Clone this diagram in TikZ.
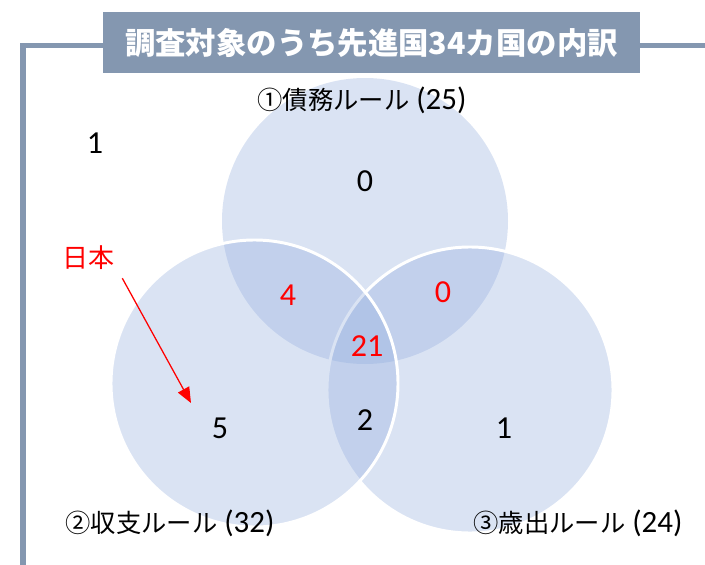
\documentclass[tikz,border=0pt]{standalone}
\usepackage{fontspec}
\usepackage{tikz}
\usetikzlibrary{positioning,arrows.meta}
\setmainfont{Carlito}
\newfontfamily\jpfont{Noto Sans CJK JP}
\definecolor{slatebar}{RGB}{132,151,176}
\definecolor{setblue}{RGB}{143,170,220}
\definecolor{hitred}{RGB}{255,0,0}
\newcommand{\setname}[2]{{\jpfont\fontsize{18}{22}\selectfont #1} (#2)}

\begin{document}
\begin{tikzpicture}[x=0.025cm,y=-0.025cm,
    setfill/.style={fill=setblue,fill opacity=0.33},
    setedge/.style={setfill,draw=white,draw opacity=1,line width=2.1pt},
    frameline/.style={slatebar,line width=3.6pt},
    num/.style={font=\fontsize{22.8}{26}\selectfont,inner sep=0pt},
    rednum/.style={num,text=hitred},
    setlabel/.style={font=\fontsize{22}{24}\selectfont,inner sep=0pt}]
    \useasboundingbox (0,0) rectangle (705,565);

    % the three sets, ordered so the edges overlap as in the chart
    \fill[setfill] (365,221) circle (143);
    \filldraw[setedge] (470,390) circle (143);
    \filldraw[setedge] (254.5,383.5) circle (143.5);

    % title bar and frame
    \node[fill=slatebar,text=white,inner sep=0pt,
          minimum width=13.425cm,minimum height=1.525cm,
          font=\jpfont\bfseries\fontsize{21.6}{26}\selectfont]
      (title) at (371.5,42.5) {調査対象のうち先進国34カ国の内訳};
    \coordinate (rule) at (0,45.5);
    \coordinate (corner) at (23,45.5);
    \coordinate (foot) at (23,565);
    \coordinate (edge) at (705,45.5);
    \draw[frameline] (title.west |- rule) -- (corner) -- (foot);
    \draw[frameline] (title.east |- rule) -- (edge);

    % set names
    \node[setlabel] (debt) at (362,100) {\setname{①債務ルール}{25}};
    \node[setlabel] (balance) at (170,523) {\setname{②収支ルール}{32}};
    \node[setlabel] (spend) at (578,523) {\setname{③歳出ルール}{24}};

    % counts
    \node[num] (none) at (95,143) {1};
    \node[num] (onlyA) at (365,181) {0};
    \node[rednum] (ab) at (288,295) {4};
    \node[rednum] (ac) at (443,292) {0};
    \node[rednum] (abc) at (367,346) {21};
    \node[num] (onlyB) at (220,428) {5};
    \node[num] (bc) at (365,420) {2};
    \node[num] (onlyC) at (504,428) {1};

    % Japan marker
    \node[text=hitred,inner sep=0pt,font=\jpfont\fontsize{18.5}{22}\selectfont]
      (japan) at (89,258) {日本};
    \coordinate (jptip) at (191,403);
    \draw[hitred,line width=0.9pt,-{Triangle[length=11pt,width=9pt]}]
      ([shift={(7,8)}]japan.south east) -- (jptip);
\end{tikzpicture}
\end{document}
